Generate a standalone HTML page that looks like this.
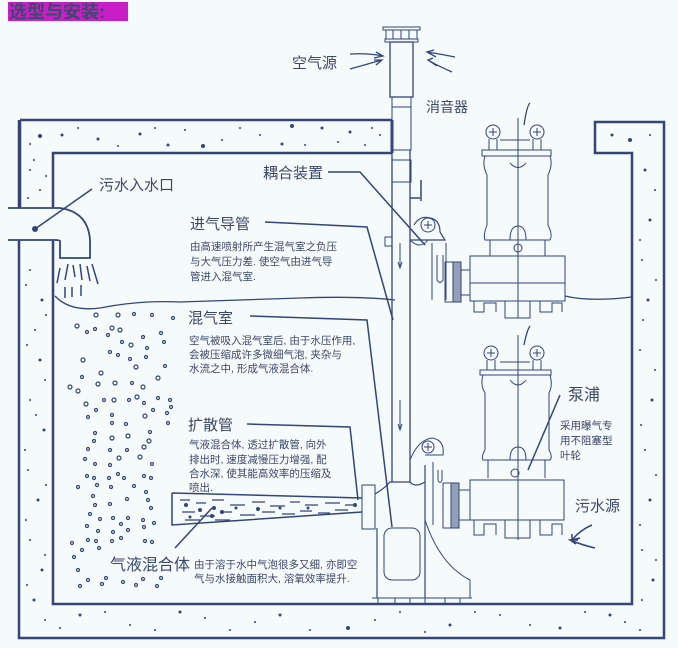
<!DOCTYPE html>
<html><head><meta charset="utf-8"><style>
html,body{margin:0;padding:0;background:#f5fafa;}
svg{display:block;}
text{font-family:"Liberation Sans","Noto Sans CJK SC",sans-serif;fill:#3c4868;}
.t{font-size:15px;}
.s{font-size:10.5px;}
</style></head><body>
<svg width="678" height="648" viewBox="0 0 678 648" xmlns="http://www.w3.org/2000/svg">
<rect width="678" height="648" fill="#f5fafa"/>
<!-- title -->
<rect x="8" y="2" width="120" height="19" fill="#c81ec8"/>
<text x="9" y="18" style="font-size:18px;font-weight:bold;fill:#3a4a6a">选型与安装:</text>

<g stroke="#34457a" fill="none">
<!-- walls -->
<path d="M20 120 H392 M392 153 H53 V208 M53 240 V604 H632 V153 H595 V122 H664 V638 H19 V240 M19 208 V120" stroke-width="2.5"/>
<path d="M20 120 V208" stroke-width="2.5"/>
<path d="M392 120 V153" stroke-width="3"/>
<!-- inlet pipe -->
<path d="M8 208 H60 Q88 212 90 240 V258 H60 V241 Q60 240 55 240 H8" stroke-width="1.8"/>
<circle cx="35" cy="229" r="2.5" fill="#34457a"/>
<line x1="35" y1="229" x2="92" y2="189" stroke-width="1.5"/>
<!-- falling water -->
<path d="M60 268 L57 283 M68 264 L65 280 M73 265 L75 277 M80 264 L82 280 M87 266 L90 281 M92 264 L98 284 M65 287 V298 M72 287 V297 M81 285 V296" stroke-width="1.5"/>
<!-- water surface -->
<path d="M55 296 Q70 312 100 308 Q140 300 180 302 Q240 300 300 298 Q360 296 395 300" stroke-width="1.3"/>
<path d="M565 296 Q590 302 632 297" stroke-width="1.3"/>

<!-- silencer & air pipe -->
<rect x="383" y="27" width="37" height="3"/>
<rect x="386" y="30" width="31" height="9"/>
<path d="M393 30 V39 M401 30 V39 M409 30 V39"/>
<rect x="385" y="39" width="33" height="3"/>
<rect x="390" y="42" width="23" height="55" stroke-width="1.3"/>
<rect x="392" y="97" width="19" height="10"/>
<rect x="392" y="107" width="19" height="43"/>
<rect x="392" y="160" width="19" height="22"/>
<path d="M392 150 V482 M410 150 V482" stroke-width="1.3"/>
<path d="M410 198 H420 M421 180 V201" stroke-width="1.5"/>
<rect x="385" y="237" width="7" height="9"/>
<path d="M400 243 V268 M398 262 L400 268 L402 262" stroke-width="1"/>
<path d="M400 400 V430 M398 424 L400 430 L402 424" stroke-width="1"/>
<!-- air arrows -->
<path d="M350 54 Q368 53 383 56 M376 52 L383 56 L374 58" stroke-width="1.3"/>
<path d="M350 69 Q368 64 382 60 M374 60 L382 60 L376 65" stroke-width="1.3"/>
<path d="M455 57 Q440 54 427 52 M434 50 L427 52 L436 57" stroke-width="1.3"/>
<path d="M452 72 Q438 66 428 60 M433 58 L428 60 L437 66" stroke-width="1.3"/>

<!-- coupling -->
<path d="M414 225 Q420 215 430 218 Q440 220 440 232 L445 240 H410" stroke-width="1.2"/>
<circle cx="428" cy="225" r="7"/>
<path d="M424 225 H432 M428 221 V229"/>
<path d="M410 240 Q420 250 428 240 M432 243 V300 M446 243 V300 M437 255 V280 Q440 285 443 280 V255"/>
<rect x="445" y="262" width="8" height="40"/>
<rect x="453" y="262" width="8" height="40" fill="#34457a" fill-opacity="0.5"/>
<path d="M461 270 H470 M461 295 H470"/>

<!-- upper pump -->
<path d="M524 125 Q527 105 530 103" stroke-width="1.3"/>
<circle cx="493" cy="132" r="7"/><circle cx="537" cy="132" r="7"/>
<path d="M489 132 H497 M493 128 V136 M533 132 H541 M537 128 V136"/>
<path d="M489 139 V150 M497 139 V150 M533 139 V150 M541 139 V150 M500 140 H530"/>
<rect x="482" y="150" width="69" height="6"/>
<path d="M485 156 Q482 165 487 175 V225 Q483 235 485 240 H550 Q553 235 548 225 V175 Q553 165 550 156"/>
<path d="M490 240 V256 M545 240 V256 M518 118 V318"/>
<path d="M510 163 Q518 172 526 163 M510 240 Q510 226 518 226 Q526 226 526 240"/>
<rect x="470" y="256" width="95" height="45"/>
<path d="M470 283 H565 M474 301 V312 H484 V303 H496 V312 M505 301 V318 H530 V301 M540 301 V312 H552 V303 H562 V312"/>
<circle cx="518" cy="248" r="4"/>

<!-- lower pump -->
<path d="M524 345 Q527 330 530 326" stroke-width="1.3"/>
<circle cx="491" cy="353" r="7"/><circle cx="537" cy="353" r="7"/>
<path d="M487 353 H495 M491 349 V357 M533 353 H541 M537 349 V357"/>
<path d="M487 360 V370 M495 360 V370 M533 360 V370 M541 360 V370 M500 362 H530"/>
<rect x="480" y="370" width="71" height="5"/>
<path d="M483 375 Q480 385 485 393 V450 Q481 457 483 460 H550 Q553 457 549 450 V393 Q553 385 550 375"/>
<path d="M510 380 Q518 390 526 380 M510 460 Q510 447 518 447 Q526 447 526 460"/>
<path d="M488 460 V478 M545 460 V478 M518 335 V540"/>
<circle cx="515" cy="473" r="4"/>
<rect x="470" y="480" width="94" height="40"/>
<path d="M474 520 V535 H484 V524 H496 V535 M505 520 V538 H530 V520 M540 520 V535 H552 V524 H562 V535"/>
<rect x="443" y="483" width="8" height="45"/>
<rect x="451" y="483" width="8" height="45" fill="#34457a" fill-opacity="0.5"/>
<path d="M459 490 H470 M459 520 H470"/>

<!-- base elbow -->
<rect x="362" y="485" width="13" height="44"/>
<path d="M375 494 Q385 488 390 482 H410 Q415 488 425 482 V465 M425 482 V598 M377 528 V598" stroke-width="1.2"/>
<path d="M410 460 Q418 440 432 438 Q445 440 443 455 H425"/>
<circle cx="428" cy="447" r="6"/>
<path d="M424 447 H432 M428 443 V451"/>
<path d="M433 462 V525 M438 470 V480 Q440 485 442 480 V470"/>
<rect x="384" y="528" width="36" height="52" rx="8"/>
<path d="M425 520 Q440 565 470 580 V598 M372 598 H472"/>
<path d="M378 598 V604 M395 598 V604 M410 598 V604 M425 598 V604 M445 598 V604 M460 598 V604"/>

<!-- diffuser -->
<path d="M172 493 L362 498 M172 493 V525 L362 512" stroke-width="1.5"/>
<path d="M180 500 H190 M196 503 H206 M212 500 H224 M230 505 H245 M252 502 H265 M270 506 H285 M290 502 H300 M305 505 H318 M325 503 H340 M345 505 H355 M182 512 H195 M200 516 H215 M220 512 H232 M240 515 H255 M262 512 H275 M282 514 H295 M300 511 H312 M318 513 H330 M335 510 H348 M185 520 H200 M215 520 H230" stroke-width="1.3"/>
<g fill="#34457a" stroke="none">
<circle cx="186" cy="505" r="2"/><circle cx="200" cy="510" r="2"/><circle cx="214" cy="508" r="2"/><circle cx="222" cy="512" r="2"/><circle cx="236" cy="508" r="1.5"/><circle cx="258" cy="509" r="2"/><circle cx="280" cy="508" r="1.5"/><circle cx="308" cy="508" r="1.5"/><circle cx="355" cy="505" r="2"/><circle cx="190" cy="517" r="1.5"/><circle cx="212" cy="516" r="2"/></g>

<!-- leader lines -->
<g stroke-width="1.5">
<path d="M328 172 H360 L425 245"/>
<path d="M265 222 L367 227 L393 320"/>
<path d="M250 316 L367 320 L392 527"/>
<path d="M247 424 L350 427 L358 500"/>
<path d="M175 548 L212 508"/>
<path d="M560 395 L528 470"/>
</g>
<!-- sewage arrows -->
<path d="M592 525 Q580 530 572 540 M572 534 L572 540 L580 538" stroke-width="1.5"/>
<path d="M595 548 Q582 545 570 540 M576 544 L570 540 L578 540" stroke-width="1.5"/>
</g>

<!-- bubbles -->
<g stroke="#34457a" stroke-width="1.2" fill="none">
<circle cx="77" cy="326" r="2"/><circle cx="96" cy="315" r="2"/><circle cx="87" cy="332" r="1.5"/><circle cx="95" cy="329" r="1.5"/><circle cx="112" cy="328" r="2"/><circle cx="120" cy="330" r="2"/><circle cx="118" cy="315" r="2"/><circle cx="134" cy="314" r="1.5"/><circle cx="152" cy="315" r="1.5"/><circle cx="161" cy="333" r="1.5"/><circle cx="173" cy="318" r="1.5"/>
<circle cx="108" cy="335" r="1.5"/><circle cx="122" cy="342" r="1.5"/><circle cx="131" cy="345" r="2"/><circle cx="143" cy="337" r="1.5"/><circle cx="147" cy="348" r="1.5"/><circle cx="164" cy="342" r="1.5"/><circle cx="83" cy="360" r="2"/><circle cx="110" cy="352" r="1.5"/><circle cx="118" cy="355" r="1.5"/><circle cx="130" cy="359" r="1.5"/><circle cx="146" cy="357" r="1.5"/><circle cx="136" cy="367" r="2"/><circle cx="165" cy="366" r="1.5"/>
<circle cx="82" cy="377" r="1.5"/><circle cx="101" cy="373" r="2"/><circle cx="98" cy="384" r="2"/><circle cx="115" cy="383" r="2"/><circle cx="132" cy="383" r="1.5"/><circle cx="143" cy="387" r="2"/><circle cx="158" cy="378" r="2"/><circle cx="70" cy="387" r="2"/><circle cx="78" cy="391" r="2"/>
<circle cx="86" cy="404" r="2"/><circle cx="96" cy="410" r="1.5"/><circle cx="104" cy="400" r="1.5"/><circle cx="114" cy="400" r="2"/><circle cx="129" cy="400" r="1.5"/><circle cx="137" cy="397" r="2"/><circle cx="144" cy="403" r="1.5"/><circle cx="158" cy="398" r="1.5"/><circle cx="170" cy="400" r="1.5"/><circle cx="171" cy="407" r="1.5"/>
<circle cx="88" cy="417" r="1.5"/><circle cx="112" cy="415" r="1.5"/><circle cx="112" cy="423" r="1.5"/><circle cx="126" cy="424" r="1.5"/><circle cx="145" cy="416" r="2"/><circle cx="153" cy="410" r="1.5"/><circle cx="167" cy="413" r="1.5"/><circle cx="168" cy="423" r="1.5"/><circle cx="95" cy="433" r="1.5"/><circle cx="94" cy="441" r="1.5"/><circle cx="112" cy="438" r="2"/><circle cx="128" cy="436" r="2"/><circle cx="150" cy="432" r="1.5"/><circle cx="149" cy="441" r="2"/>
<circle cx="88" cy="449" r="1.5"/><circle cx="110" cy="450" r="1.5"/><circle cx="127" cy="450" r="1.5"/><circle cx="144" cy="447" r="2"/><circle cx="140" cy="457" r="2"/><circle cx="85" cy="459" r="1.5"/><circle cx="95" cy="464" r="1.5"/><circle cx="110" cy="465" r="1.5"/><circle cx="119" cy="458" r="2"/><circle cx="152" cy="464" r="1.5"/>
<circle cx="87" cy="476" r="1.5"/><circle cx="94" cy="478" r="1.5"/><circle cx="109" cy="478" r="1.5"/><circle cx="118" cy="474" r="1.5"/><circle cx="124" cy="478" r="1.5"/><circle cx="144" cy="476" r="1.5"/><circle cx="151" cy="478" r="1.5"/><circle cx="78" cy="487" r="1.5"/><circle cx="97" cy="485" r="1.5"/><circle cx="111" cy="487" r="1.5"/><circle cx="134" cy="486" r="1.5"/><circle cx="146" cy="492" r="1.5"/>
<circle cx="93" cy="496" r="1.5"/><circle cx="95" cy="505" r="1.5"/><circle cx="110" cy="504" r="1.5"/><circle cx="127" cy="499" r="1.5"/><circle cx="148" cy="500" r="1.5"/><circle cx="151" cy="508" r="1.5"/><circle cx="90" cy="514" r="1.5"/><circle cx="100" cy="519" r="1.5"/><circle cx="113" cy="518" r="1.5"/><circle cx="121" cy="524" r="1.5"/><circle cx="128" cy="518" r="1.5"/><circle cx="143" cy="520" r="1.5"/><circle cx="154" cy="523" r="1.5"/>
<circle cx="87" cy="526" r="1.5"/><circle cx="98" cy="531" r="1.5"/><circle cx="113" cy="532" r="1.5"/><circle cx="128" cy="530" r="1.5"/><circle cx="144" cy="527" r="1.5"/><circle cx="72" cy="543" r="1.5"/><circle cx="88" cy="540" r="1.5"/><circle cx="96" cy="541" r="1.5"/><circle cx="112" cy="541" r="1.5"/><circle cx="121" cy="538" r="1.5"/><circle cx="145" cy="541" r="1.5"/><circle cx="152" cy="542" r="1.5"/>
<circle cx="82" cy="550" r="1.5"/><circle cx="99" cy="548" r="1.5"/><circle cx="74" cy="557" r="1.5"/><circle cx="78" cy="570" r="1.5"/><circle cx="88" cy="580" r="1.5"/><circle cx="80" cy="586" r="1.5"/><circle cx="102" cy="584" r="1.5"/><circle cx="106" cy="578" r="1.5"/><circle cx="123" cy="582" r="1.5"/><circle cx="136" cy="585" r="1.5"/><circle cx="143" cy="579" r="1.5"/><circle cx="157" cy="586" r="1.5"/><circle cx="161" cy="578" r="1.5"/>
</g>

<!-- wall speckles -->
<g fill="#34457a">
<circle cx="40" cy="136" r="2"/><circle cx="62" cy="135" r="1.5"/><circle cx="98" cy="139" r="1.5"/><circle cx="140" cy="134" r="1.5"/><circle cx="168" cy="145" r="1.5"/><circle cx="203" cy="146" r="2"/><circle cx="240" cy="128" r="1"/><circle cx="292" cy="126" r="2"/><circle cx="282" cy="144" r="1.5"/><circle cx="322" cy="128" r="1.5"/><circle cx="350" cy="132" r="1.5"/><circle cx="372" cy="128" r="1"/><circle cx="30" cy="170" r="1"/><circle cx="40" cy="190" r="1"/><circle cx="34" cy="160" r="1"/>
<circle cx="30" cy="144" r="1"/><circle cx="78" cy="128" r="1"/><circle cx="118" cy="146" r="1"/><circle cx="155" cy="128" r="1"/><circle cx="185" cy="130" r="1"/><circle cx="222" cy="140" r="1"/><circle cx="260" cy="135" r="1"/><circle cx="305" cy="145" r="1"/><circle cx="338" cy="142" r="1"/><circle cx="365" cy="145" r="1"/><circle cx="380" cy="135" r="1"/><circle cx="46" cy="176" r="1"/><circle cx="28" cy="198" r="1"/>
<circle cx="30" cy="270" r="1"/><circle cx="42" cy="300" r="1.5"/><circle cx="35" cy="330" r="1"/><circle cx="40" cy="360" r="1.5"/><circle cx="30" cy="400" r="1"/><circle cx="44" cy="430" r="1.5"/><circle cx="28" cy="470" r="1"/><circle cx="38" cy="500" r="1.5"/><circle cx="30" cy="540" r="1"/><circle cx="42" cy="570" r="1.5"/><circle cx="34" cy="600" r="1.5"/>
<circle cx="26" cy="285" r="1"/><circle cx="46" cy="315" r="1"/><circle cx="27" cy="345" r="1"/><circle cx="45" cy="380" r="1"/><circle cx="36" cy="415" r="1"/><circle cx="25" cy="450" r="1"/><circle cx="46" cy="485" r="1"/><circle cx="26" cy="520" r="1"/><circle cx="45" cy="555" r="1"/><circle cx="27" cy="585" r="1"/><circle cx="45" cy="620" r="1"/>
<circle cx="80" cy="615" r="1.5"/><circle cx="130" cy="625" r="1"/><circle cx="180" cy="612" r="1.5"/><circle cx="230" cy="630" r="1"/><circle cx="280" cy="615" r="1.5"/><circle cx="348" cy="628" r="2"/><circle cx="400" cy="612" r="1"/><circle cx="450" cy="625" r="1.5"/><circle cx="500" cy="615" r="1"/><circle cx="560" cy="628" r="1.5"/><circle cx="610" cy="615" r="1.5"/><circle cx="640" cy="630" r="1"/>
<circle cx="60" cy="628" r="1"/><circle cx="105" cy="612" r="1"/><circle cx="155" cy="630" r="1"/><circle cx="205" cy="618" r="1"/><circle cx="255" cy="622" r="1"/><circle cx="310" cy="630" r="1"/><circle cx="375" cy="620" r="1"/><circle cx="425" cy="632" r="1"/><circle cx="475" cy="612" r="1"/><circle cx="530" cy="625" r="1"/><circle cx="585" cy="612" r="1"/><circle cx="625" cy="622" r="1"/>
<circle cx="645" cy="170" r="1.5"/><circle cx="650" cy="220" r="1.5"/><circle cx="642" cy="260" r="1"/><circle cx="648" cy="300" r="1.5"/><circle cx="640" cy="350" r="1"/><circle cx="652" cy="400" r="1.5"/><circle cx="645" cy="450" r="1"/><circle cx="650" cy="500" r="1.5"/><circle cx="642" cy="550" r="1"/><circle cx="653" cy="580" r="1.5"/><circle cx="612" cy="135" r="1.5"/><circle cx="630" cy="140" r="2"/>
<circle cx="655" cy="190" r="1"/><circle cx="640" cy="240" r="1"/><circle cx="656" cy="280" r="1"/><circle cx="643" cy="320" r="1"/><circle cx="655" cy="370" r="1"/><circle cx="641" cy="425" r="1"/><circle cx="656" cy="475" r="1"/><circle cx="640" cy="525" r="1"/><circle cx="656" cy="560" r="1"/><circle cx="642" cy="600" r="1"/><circle cx="650" cy="135" r="1"/>
</g>

<!-- labels -->
<text class="t" x="292" y="68">空气源</text>
<text class="t" x="426" y="112" style="font-size:14px">消音器</text>
<text class="t" x="263" y="178">耦合装置</text>
<text class="t" x="99" y="190">污水入水口</text>
<text class="t" x="190" y="229">进气导管</text>
<text class="s" x="190" y="250">由高速喷射所产生混气室之负压</text>
<text class="s" x="190" y="265">与大气压力差. 使空气由进气导</text>
<text class="s" x="190" y="280">管进入混气室.</text>
<text class="t" x="188" y="323">混气室</text>
<text class="s" x="189" y="344">空气被吸入混气室后, 由于水压作用,</text>
<text class="s" x="189" y="358">会被压缩成许多微细气泡, 夹杂与</text>
<text class="s" x="189" y="372">水流之中, 形成气液混合体.</text>
<text class="t" x="188" y="430">扩散管</text>
<text class="s" x="189" y="448">气液混合体, 透过扩散管, 向外</text>
<text class="s" x="189" y="463">排出时, 速度减慢压力增强, 配</text>
<text class="s" x="189" y="477">合水深, 使其能高效率的压缩及</text>
<text class="s" x="189" y="491">喷出.</text>
<text class="t" x="110" y="570" style="font-size:16px">气液混合体</text>
<text class="s" x="194" y="568">由于溶于水中气泡很多又细, 亦即空</text>
<text class="s" x="194" y="582">气与水接触面积大, 溶氧效率提升.</text>
<text class="t" x="568" y="400" style="font-size:16px">泵浦</text>
<text class="s" x="560" y="429">采用曝气专</text>
<text class="s" x="560" y="444">用不阻塞型</text>
<text class="s" x="560" y="459">叶轮</text>
<text class="t" x="575" y="511">污水源</text>
</svg>
</body></html>
